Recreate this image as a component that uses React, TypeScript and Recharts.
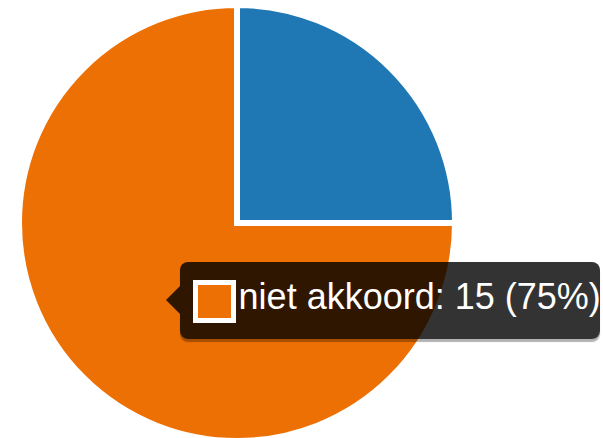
import React from "react";
import { PieChart, Pie, Cell, Tooltip } from "recharts";

const categories = ["akkoord", "niet akkoord"];
const counts = [5, 15];
const colors = ["#1f77b4", "#ec7004"];
const activeIndex = 1;

const data = categories.map((name, i) => ({ name, value: counts[i] }));
const total = counts.reduce((a, b) => a + b, 0);

const TipContent = () => {
  const item = data[activeIndex];
  const pct = Math.round((item.value / total) * 100);
  return (
    <div style={{ position: "relative", width: 434, height: 77 }}>
      <div
        style={{
          position: "absolute",
          left: 0,
          top: 24,
          width: 0,
          height: 0,
          borderTop: "14px solid transparent",
          borderBottom: "14px solid transparent",
          borderRight: "14px solid rgba(0,0,0,0.8)",
        }}
      />
      <div
        style={{
          position: "absolute",
          left: 14,
          top: 0,
          width: 420,
          height: 77,
          background: "rgba(0,0,0,0.8)",
          borderRadius: 8,
          boxShadow: "0 3px 1px rgba(0,0,0,0.3)",
        }}
      >
        <div
          style={{
            position: "absolute",
            left: 13,
            top: 18,
            width: 33,
            height: 33,
            border: "5px solid #fff",
            background: colors[activeIndex],
          }}
        />
        <span
          style={{
            position: "absolute",
            left: 58.6,
            top: 16.5,
            fontFamily: "'Liberation Sans', Arial, sans-serif",
            fontSize: 36,
            lineHeight: "36px",
            color: "#fff",
            whiteSpace: "nowrap",
          }}
        >
          {`${item.name}: ${item.value} (${pct}%)`}
        </span>
      </div>
    </div>
  );
};

export default function App() {
  return (
    <div style={{ position: "fixed", left: 0, top: 0, width: 603, height: 438, background: "#fff" }}>
      <PieChart width={603} height={438} margin={{ top: 0, right: 0, bottom: 0, left: 0 }}>
        <Pie
          data={data}
          dataKey="value"
          nameKey="name"
          cx={237}
          cy={223}
          outerRadius={218}
          startAngle={90}
          endAngle={-270}
          stroke="#fff"
          strokeWidth={6}
          isAnimationActive={false}
        >
          {data.map((d, i) => (
            <Cell key={d.name} fill={colors[i]} />
          ))}
        </Pie>
        <Tooltip
          active={true}
          defaultIndex={activeIndex}
          position={{ x: 166, y: 262 }}
          content={<TipContent />}
          isAnimationActive={false}
          wrapperStyle={{ outline: "none" }}
        />
      </PieChart>
    </div>
  );
}
